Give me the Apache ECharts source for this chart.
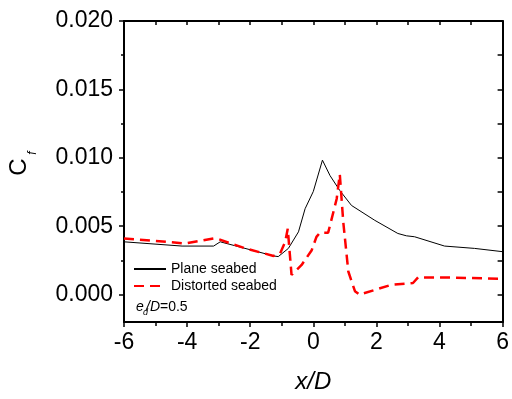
<!DOCTYPE html>
<html>
<head>
<meta charset="utf-8">
<script src="https://cdn.jsdelivr.net/npm/echarts@6/dist/echarts.min.js"></script>
<style>
  html, body { margin: 0; padding: 0; background: #fff; }
  #chart { width: 512px; height: 399px; }
</style>
</head>
<body>
<div id="chart"></div>
<script>
(function() {
  // data
  var planeX = [-6, -4.16, -3.16, -2.95, -1.26, -1.11, -0.79, -0.47, -0.26, 0.0, 0.29, 0.53, 0.84, 1.21, 1.95, 2.68, 2.95, 3.21, 4.16, 5.11, 6];
  var planeY = [0.00386, 0.00355, 0.00355, 0.00386, 0.00283, 0.00278, 0.00338, 0.00459, 0.00628, 0.00754, 0.00983, 0.0087, 0.00761, 0.00652, 0.00543, 0.00447, 0.0043, 0.00423, 0.00355, 0.00338, 0.00314];
  var distX = [-6, -4.05, -3.16, -3.0, -2.16, -1.26, -1.05, -0.89, -0.81, -0.69, -0.37, -0.05, 0.10, 0.21, 0.47, 0.53, 0.74, 0.84, 0.95, 1.11, 1.32, 1.47, 2.47, 3.16, 3.32, 4.05, 6];
  var distY = [0.00411, 0.00374, 0.00411, 0.00405, 0.00338, 0.00283, 0.00302, 0.00386, 0.00482, 0.00145, 0.00217, 0.00325, 0.00422, 0.00453, 0.00453, 0.00506, 0.00699, 0.00879, 0.0053, 0.00169, 0.00025, 0.0, 0.00072, 0.00085, 0.00126, 0.00126, 0.00116];
  var yMajor = [0, 0.005, 0.010, 0.015, 0.020];
  var yMinor = [0.0025, 0.0075, 0.0125, 0.0175];
  var yAll = [0, 0.0025, 0.005, 0.0075, 0.010, 0.0125, 0.015, 0.0175, 0.020];

  function pairs(xs, ys) {
    return xs.map(function(x, i) { return [x, ys[i]]; });
  }

  var font = "'Liberation Sans', Arial, sans-serif";
  var axisLine = { show: true, onZero: false, lineStyle: { color: '#000', width: 2 } };
  var tickLine = { color: '#000', width: 1.5 };

  var chart = echarts.init(document.getElementById('chart'), null, { renderer: 'canvas' });
  chart.setOption({
    animation: false,
    backgroundColor: '#fff',
    grid: { left: 124, right: 7, top: 21, bottom: 75, containLabel: false },
    xAxis: [{
      type: 'value', position: 'bottom', min: -6, max: 6, interval: 2,
      axisLine: axisLine,
      axisTick: { length: 5, lineStyle: tickLine },
      minorTick: { show: true, splitNumber: 2, length: 4, lineStyle: tickLine },
      axisLabel: { color: '#000', fontSize: 23, fontFamily: font, margin: 9 },
      splitLine: { show: false },
      name: 'x/D', nameLocation: 'middle', nameGap: 48,
      nameTextStyle: { color: '#000', fontSize: 24, fontStyle: 'italic', fontFamily: font }
    }, {
      type: 'value', position: 'top', min: -6, max: 6, interval: 1,
      axisLine: axisLine,
      axisTick: { inside: true, length: 4, lineStyle: tickLine },
      axisLabel: { show: false },
      splitLine: { show: false }
    }],
    yAxis: [{
      type: 'value', position: 'left', min: -0.002, max: 0.02,
      axisLine: axisLine,
      axisTick: { customValues: yMajor, length: 5, lineStyle: tickLine },
      axisLabel: {
        customValues: yMajor, color: '#000', fontSize: 23, fontFamily: font, margin: 11,
        formatter: function(v) { return v.toFixed(3); }
      },
      splitLine: { show: false }
    }, {
      type: 'value', position: 'left', min: -0.002, max: 0.02,
      axisLine: { show: false, onZero: false },
      axisTick: { customValues: yMinor, length: 3, lineStyle: tickLine },
      axisLabel: { show: false },
      splitLine: { show: false }
    }, {
      type: 'value', position: 'right', min: -0.002, max: 0.02,
      axisLine: axisLine,
      axisTick: { customValues: yAll, inside: true, length: 5, lineStyle: tickLine },
      axisLabel: { show: false },
      splitLine: { show: false }
    }],
    legend: {
      orient: 'vertical', left: 133, top: 262, padding: 0,
      itemWidth: 32, itemHeight: 14, itemGap: 3,
      itemStyle: { opacity: 0, borderWidth: 0 },
      textStyle: { color: '#000', fontSize: 14, fontFamily: font },
      data: ['Plane seabed', 'Distorted seabed']
    },
    graphic: [
      { type: 'text', x: 19, y: 167, rotation: Math.PI / 2,
        style: { text: 'C', fill: '#000', font: '24px ' + font, align: 'center', verticalAlign: 'middle' } },
      { type: 'text', x: 33, y: 153, rotation: Math.PI / 2,
        style: { text: 'f', fill: '#000', font: 'italic 12px ' + font, align: 'center', verticalAlign: 'middle' } },
      { type: 'text', x: 136, y: 307,
        style: { text: 'e', fill: '#000', font: 'italic 14px ' + font, align: 'left', verticalAlign: 'middle' } },
      { type: 'text', x: 143, y: 312,
        style: { text: 'd', fill: '#000', font: 'italic 9px ' + font, align: 'left', verticalAlign: 'middle' } },
      { type: 'text', x: 146, y: 307,
        style: { text: '/D', fill: '#000', font: 'italic 14px ' + font, align: 'left', verticalAlign: 'middle' } },
      { type: 'text', x: 160, y: 307,
        style: { text: '=0.5', fill: '#000', font: '14px ' + font, align: 'left', verticalAlign: 'middle' } }
    ],
    series: [{
      name: 'Plane seabed', type: 'line', xAxisIndex: 0, yAxisIndex: 0,
      data: pairs(planeX, planeY),
      symbol: 'none', showSymbol: false,
      lineStyle: { color: '#000', width: 1 },
      itemStyle: { color: '#000' }
    }, {
      name: 'Distorted seabed', type: 'line', xAxisIndex: 0, yAxisIndex: 0,
      data: pairs(distX, distY),
      symbol: 'none', showSymbol: false,
      lineStyle: { color: '#ff0000', width: 2.5, type: [10, 6] },
      itemStyle: { color: '#ff0000' }
    }]
  });
  window.addEventListener('resize', function() { chart.resize(); });
})();
</script>
</body>
</html>
